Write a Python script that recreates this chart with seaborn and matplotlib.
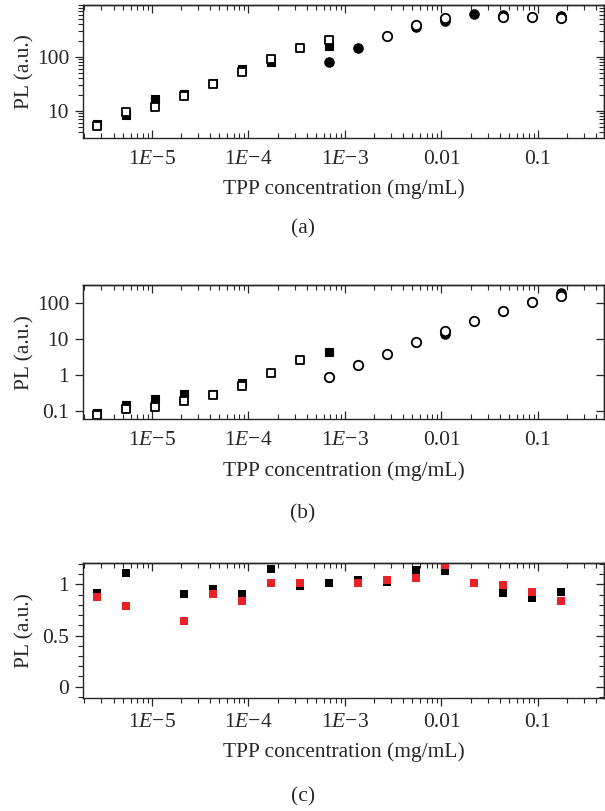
import numpy as np
import matplotlib
matplotlib.use("Agg")
import matplotlib.pyplot as plt
from matplotlib.ticker import MultipleLocator, LogLocator, NullFormatter
import seaborn as sns

# =========================
# Data
# =========================

# TPP concentration (mg/mL), two-fold dilution series
conc = [2.67e-6, 5.34e-6, 1.07e-5, 2.14e-5, 4.27e-5, 8.54e-5, 1.71e-4, 3.42e-4,
        6.84e-4, 1.37e-3, 2.73e-3, 5.47e-3, 1.09e-2, 2.19e-2, 4.38e-2, 8.75e-2, 0.175]
nan = np.nan

# (a)
a_sq_filled = [5.8, 8.3, 16.3, 20.4, 33, 58.5, 80, nan, 160, nan, nan, nan, nan, nan, nan, nan, nan]
a_sq_open = [5.2, 9.6, 11.9, 18.7, 31.6, 52, 92, 147, 204, nan, nan, nan, nan, nan, nan, nan, nan]
a_ci_filled = [nan, nan, nan, nan, nan, nan, nan, nan, 81, 145, nan, 350, 464, 610, 592, nan, 567]
a_ci_open = [nan, nan, nan, nan, nan, nan, nan, nan, nan, nan, 242, 392, 527, nan, 550, 537, 514]

# (b)
b_sq_filled = [0.091, 0.15, 0.22, 0.30, 0.31, 0.625, nan, nan, 4.5, nan, nan, nan, nan, nan, nan, nan, nan]
b_sq_open = [0.077, 0.116, 0.134, 0.197, 0.284, 0.51, 1.16, 2.7, nan, nan, nan, nan, nan, nan, nan, nan, nan]
b_ci_filled = [nan, nan, nan, nan, nan, nan, nan, nan, 0.87, nan, nan, nan, 14.3, nan, nan, 111, 190]
b_ci_open = [nan, nan, nan, nan, nan, nan, nan, nan, 0.9, 1.97, 3.9, 8.4, 17.3, 31.6, 60, 107, 160]

# (c)
c_black = [0.918, 1.107, nan, 0.903, 0.954, 0.903, 1.146, 0.983, 1.01, 1.04, 1.022, 1.14, 1.132,
           nan, 0.912, 0.864, 0.928]
c_red = [0.876, 0.786, nan, 0.643, 0.903, 0.837, 1.01, 1.016, nan, 1.016, 1.04, 1.058, 1.19,
         1.016, 0.993, 0.925, 0.84]

xtick_vals = [1e-5, 1e-4, 1e-3, 1e-2, 1e-1]
xtick_labels = ["1$\\mathit{E}$\u22125", "1$\\mathit{E}$\u22124", "1$\\mathit{E}$\u22123", "0.01", "0.1"]

# =========================
# Style
# =========================

sns.set_style("ticks")
plt.rcParams["font.family"] = ["Liberation Serif", "DejaVu Serif"]
plt.rcParams["mathtext.fontset"] = "custom"
plt.rcParams["mathtext.rm"] = "Liberation Serif"
plt.rcParams["mathtext.it"] = "Liberation Serif:italic"
plt.rcParams["font.size"] = 15.5
plt.rcParams["axes.linewidth"] = 1.0

fig = plt.figure(figsize=(6.05, 8.11), dpi=100)

L, W = 83 / 605, 521 / 605
ax_a = fig.add_axes([L, 1 - 138.3 / 811, W, 133.3 / 811])
ax_b = fig.add_axes([L, 1 - 419.3 / 811, W, 134.3 / 811])
ax_c = fig.add_axes([L, 1 - 697.7 / 811, W, 134.4 / 811])

RED = "#ea2227"


def squares(ax, y, filled, size=36):
    if filled:
        sns.scatterplot(x=conc, y=y, marker="s", s=size, color="black",
                        edgecolor="black", linewidth=0.8, ax=ax)
    else:
        sns.scatterplot(x=conc, y=y, marker="s", s=size, color="white",
                        edgecolor="black", linewidth=1.3, ax=ax)


def circles(ax, y, filled, size=46):
    if filled:
        sns.scatterplot(x=conc, y=y, marker="o", s=size, color="black",
                        edgecolor="black", linewidth=0.8, ax=ax)
    else:
        sns.scatterplot(x=conc, y=y, marker="o", s=size, color="white",
                        edgecolor="black", linewidth=1.3, ax=ax)


def frame(ax, log_y, bottom_dir, xpad, labelpad):
    ax.set_xscale("log")
    ax.set_xlim(1.93e-6, 0.483)
    ax.set_xticks(xtick_vals, xtick_labels)
    ax.tick_params(axis="x", which="both", direction=bottom_dir, bottom=True, top=False, pad=xpad)
    ax.tick_params(axis="y", which="both", direction="out", left=True, right=False, pad=4)
    ax.tick_params(which="major", length=6, width=0.9)
    ax.tick_params(which="minor", length=3.5, width=0.8)

    top = ax.secondary_xaxis("top")
    top.set_xticks(xtick_vals)
    top.xaxis.set_minor_locator(LogLocator(base=10, subs=np.arange(2, 10)))
    top.xaxis.set_minor_formatter(NullFormatter())
    top.tick_params(which="both", direction="in", labeltop=False)
    top.tick_params(which="major", length=6, width=0.9)
    top.tick_params(which="minor", length=3.5, width=0.8)

    right = ax.secondary_yaxis("right")
    right.set_yticks(ax.get_yticks())
    if log_y:
        right.yaxis.set_minor_locator(LogLocator(base=10, subs=np.arange(2, 10)))
    else:
        right.yaxis.set_minor_locator(MultipleLocator(0.1))
    right.yaxis.set_minor_formatter(NullFormatter())
    right.tick_params(which="both", direction="in", labelright=False)
    right.tick_params(which="major", length=6, width=0.9)
    right.tick_params(which="minor", length=3.5, width=0.8)

    ax.set_xlabel("TPP concentration (mg/mL)", labelpad=labelpad)
    ax.set_ylabel("PL (a.u.)")
    ax.yaxis.set_label_coords(-0.094, 0.5)


# =========================
# (a)
# =========================
squares(ax_a, a_sq_filled, True)
squares(ax_a, a_sq_open, False)
circles(ax_a, a_ci_filled, True)
circles(ax_a, a_ci_open, False)
ax_a.set_yscale("log")
ax_a.set_ylim(3.12, 906)
ax_a.set_yticks([10, 100], ["10", "100"])
ax_a.yaxis.set_minor_locator(LogLocator(base=10, subs=np.arange(2, 10)))
ax_a.yaxis.set_minor_formatter(NullFormatter())
frame(ax_a, True, "in", 8.5, 7.5)

# =========================
# (b)
# =========================
squares(ax_b, b_sq_filled, True)
squares(ax_b, b_sq_open, False)
circles(ax_b, b_ci_filled, True)
circles(ax_b, b_ci_open, False)
ax_b.set_yscale("log")
ax_b.set_ylim(0.06, 322)
ax_b.set_yticks([0.1, 1, 10, 100], ["0.1", "1", "10", "100"])
ax_b.yaxis.set_minor_locator(LogLocator(base=10, subs=np.arange(2, 10)))
ax_b.yaxis.set_minor_formatter(NullFormatter())
frame(ax_b, True, "in", 8.5, 8)

# =========================
# (c)
# =========================
sns.scatterplot(x=conc, y=c_black, marker="s", s=38, color="black", linewidth=0, ax=ax_c)
sns.scatterplot(x=conc, y=c_red, marker="s", s=38, color=RED, linewidth=0, ax=ax_c)
ax_c.set_ylim(-0.107, 1.205)
ax_c.set_yticks([0, 0.5, 1], ["0", "0.5", "1"])
ax_c.yaxis.set_minor_locator(MultipleLocator(0.1))
frame(ax_c, False, "out", 5, 7.5)

# panel letters
for letter, ypix in zip(["(a)", "(b)", "(c)"], [229, 514, 797]):
    fig.text(303 / 605, 1 - ypix / 811, letter, ha="center", va="center")

fig.savefig("out.png", dpi=100)
